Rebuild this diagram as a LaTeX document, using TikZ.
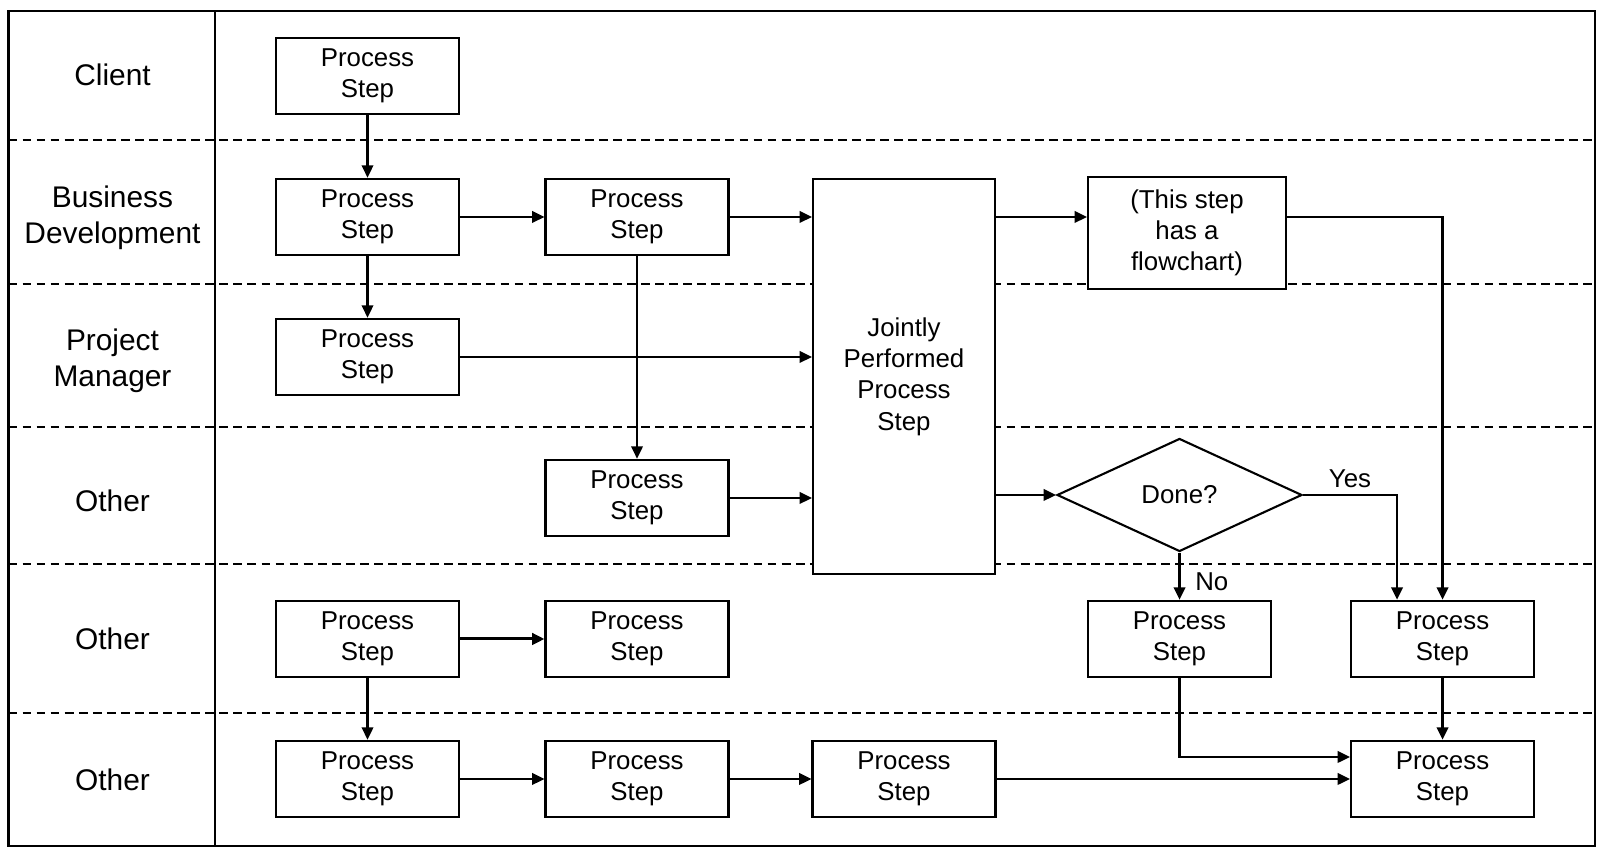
\documentclass[tikz,border=0pt]{standalone}
\usepackage{fontspec}
\setmainfont{Liberation Sans}
\usepackage{tikz}
\usetikzlibrary{arrows.meta,shapes.geometric}

\begin{document}
\begin{tikzpicture}[
		frame/.style={line width=1.6pt},
		lane/.style={line width=1.2pt, dash pattern=on 5pt off 3pt},
		lanelabel/.style={align=center, font=\fontsize{17pt}{20.4pt}\selectfont},
		stepbox/.style={draw, fill=white, line width=1.2pt, align=center, minimum width=3.66cm, minimum height=1.53cm, inner sep=0pt, font=\fontsize{14.7pt}{17.8pt}\selectfont},
		decision/.style={diamond, draw, fill=white, line width=1.2pt, minimum width=4.9cm, minimum height=2.26cm, inner sep=0pt, font=\fontsize{14.7pt}{17.8pt}\selectfont},
		flow/.style={line width=1.3pt, -{Triangle[length=7pt,width=6.5pt]}},
		answer/.style={font=\fontsize{14.7pt}{17.8pt}\selectfont}
	]
		\useasboundingbox (0,0) rectangle (32.1,17.1);

		% Lanes
		\foreach \y in {14.3, 11.42, 8.56, 5.82, 2.84}
			\draw[lane] (0.17,\y) -- (31.9,\y);
		\draw[frame] (0.17,0.18) rectangle (31.9,16.88);
		\draw[frame] (4.3,0.18) -- (4.3,16.88);

		\node[lanelabel] (client) at (2.25,15.6) {Client};
		\node[lanelabel] (bizdev) at (2.25,12.74) {Business\\Development};
		\node[lanelabel] (projman) at (2.25,9.89) {Project\\Manager};
		\node[lanelabel] (othera) at (2.25,7.09) {Other};
		\node[lanelabel] (otherb) at (2.25,4.33) {Other};
		\node[lanelabel] (otherc) at (2.25,1.51) {Other};

		% Steps
		\node[stepbox] (cs1) at (7.35,15.58) {Process\\Step};
		\node[stepbox] (bds1) at (7.35,12.76) {Process\\Step};
		\node[stepbox] (bds2) at (12.74,12.76) {Process\\Step};
		\node[stepbox] (pms1) at (7.35,9.96) {Process\\Step};
		\node[stepbox] (oas1) at (12.74,7.14) {Process\\Step};
		\node[stepbox, minimum width=3.64cm, minimum height=7.9cm] (jps) at (18.08,9.57) {Jointly\\Performed\\Process\\Step};
		\node[stepbox, minimum width=3.96cm, minimum height=2.24cm] (fcs) at (23.74,12.44) {(This step\\has a\\flowchart)};
		\node[decision] (done) at (23.59,7.2) {Done?};
		\node[stepbox] (obs1) at (7.35,4.32) {Process\\Step};
		\node[stepbox] (obs2) at (12.74,4.32) {Process\\Step};
		\node[stepbox] (obs3) at (23.59,4.32) {Process\\Step};
		\node[stepbox] (obs4) at (28.85,4.32) {Process\\Step};
		\node[stepbox] (ocs1) at (7.35,1.52) {Process\\Step};
		\node[stepbox] (ocs2) at (12.74,1.52) {Process\\Step};
		\node[stepbox] (ocs3) at (18.08,1.52) {Process\\Step};
		\node[stepbox] (ocs4) at (28.85,1.52) {Process\\Step};

		% Connectors
		\draw[flow] (cs1) -- (bds1);
		\draw[flow] (bds1) -- (pms1);
		\draw[flow] (bds1) -- (bds2);
		\draw[flow] (bds2) -- (jps.west |- bds2);
		\draw[flow] (bds2) -- (oas1);
		\draw[flow] (pms1) -- (jps.west |- pms1);
		\draw[flow] (oas1) -- (jps.west |- oas1);
		\draw[flow] (jps.east |- bds2) -- (fcs.west |- bds2);
		\draw[flow] (jps.east |- done) -- (done.west);
		\draw[flow] (fcs.east |- bds2) -| (obs4.north);
		\draw[flow] (done.east) -| node[answer, pos=0.25, above] {Yes} ([xshift=-0.91cm]obs4.north);
		\draw[flow] (done.south) -- node[answer, right, xshift=5pt, yshift=-3pt] {No} (obs3.north);
		\draw[flow, line width=1.7pt] (obs1) -- (obs2);
		\draw[flow] (obs1) -- (ocs1);
		\draw[flow] (obs4) -- (ocs4);
		\draw[flow] (obs3.south) |- ([yshift=0.44cm]ocs4.west);
		\draw[flow] (ocs1) -- (ocs2);
		\draw[flow] (ocs2) -- (ocs3);
		\draw[flow] (ocs3) -- (ocs4);
	\end{tikzpicture}
\end{document}
